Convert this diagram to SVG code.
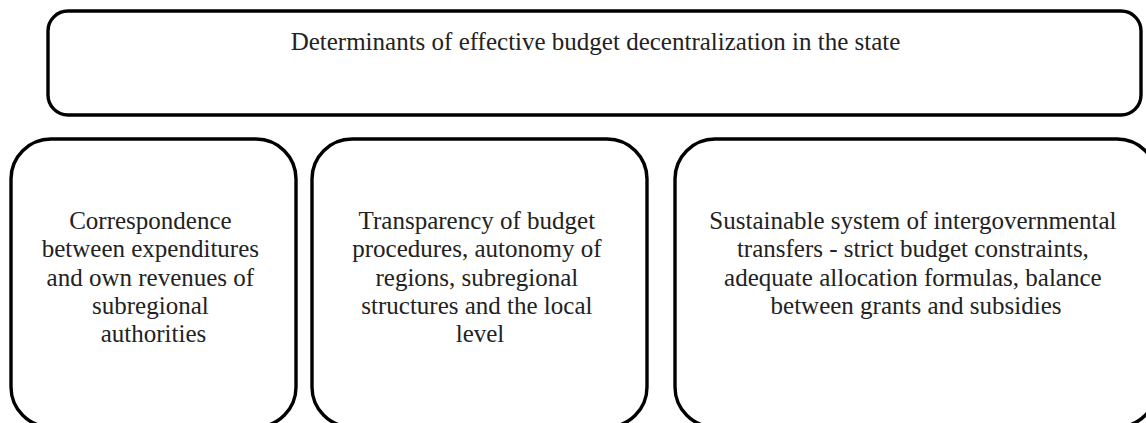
<svg xmlns="http://www.w3.org/2000/svg" width="1146" height="423" viewBox="0 0 1146 423">
  <style>
    .box { fill: #ffffff; stroke: #000000; stroke-width: 3.4; }
    .label { font-family: 'Liberation Serif', 'Tinos', 'Times New Roman', 'DejaVu Serif', serif; font-size: 25px; fill: #222222; text-anchor: middle; }
  </style>
  <rect width="1146" height="423" fill="#ffffff"/>

  <!-- Heading -->
  <g id="node-determinants">
    <rect class="box" x="48" y="11" width="1093" height="104" rx="20" ry="20"/>
    <text class="label" x="595.5" y="50">Determinants of effective budget decentralization in the state</text>
  </g>

  <!-- Determinant 1 -->
  <g id="node-correspondence">
    <rect class="box" x="11" y="139" width="285" height="288" rx="40" ry="40"/>
    <text class="label">
      <tspan x="153.5" y="229">Correspondence</tspan>
      <tspan x="153.5" y="257.3">between expenditures</tspan>
      <tspan x="153.5" y="285.6">and own revenues of</tspan>
      <tspan x="153.5" y="313.9">subregional</tspan>
      <tspan x="153.5" y="342.2">authorities</tspan>
    </text>
  </g>

  <!-- Determinant 2 -->
  <g id="node-transparency">
    <rect class="box" x="312" y="139" width="335" height="288" rx="40" ry="40"/>
    <text class="label">
      <tspan x="480" y="229">Transparency of budget</tspan>
      <tspan x="480" y="257.3">procedures, autonomy of</tspan>
      <tspan x="480" y="285.6">regions, subregional</tspan>
      <tspan x="480" y="313.9">structures and the local</tspan>
      <tspan x="480" y="342.2">level</tspan>
    </text>
  </g>

  <!-- Determinant 3 -->
  <g id="node-transfers">
    <rect class="box" x="675" y="139" width="482" height="288" rx="40" ry="40"/>
    <text class="label">
      <tspan x="916" y="229">Sustainable system of intergovernmental</tspan>
      <tspan x="916" y="257.3">transfers - strict budget constraints,</tspan>
      <tspan x="916" y="285.6">adequate allocation formulas, balance</tspan>
      <tspan x="916" y="313.9">between grants and subsidies</tspan>
    </text>
  </g>

  <!-- No connecting lines are drawn between the boxes -->
  <g id="connectors"></g>
</svg>
